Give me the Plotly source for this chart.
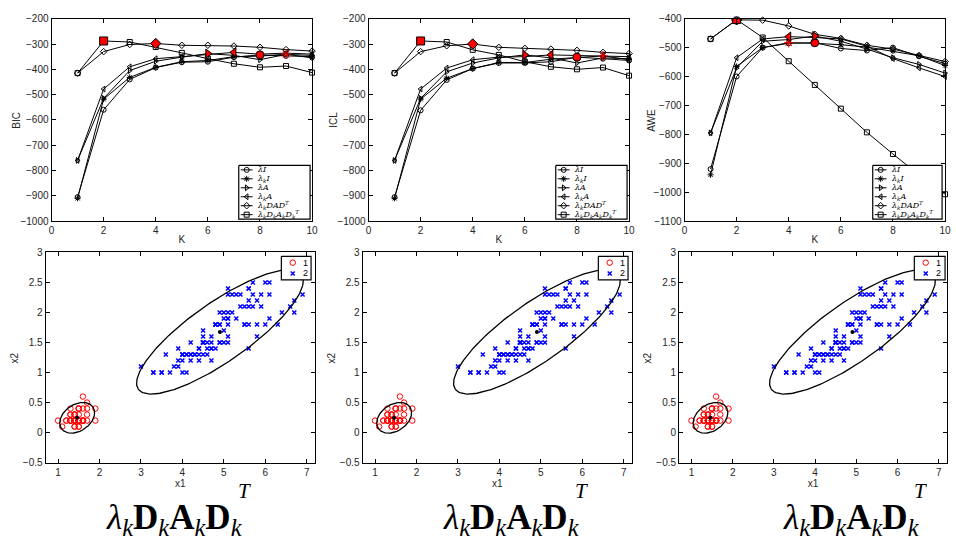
import numpy as np
import plotly.graph_objects as go

W, H = 956, 540
K = list(range(1, 11))

# ---------------- model-selection criteria ----------------
SERIES_LABELS = ["<i>λI</i>", "<i>λ<sub>k</sub>I</i>", "<i>λA</i>", "<i>λ<sub>k</sub>A</i>",
                 "<i>λ<sub>k</sub>DAD<sup>T</sup></i>",
                 "<i>λ<sub>k</sub>D<sub>k</sub>A<sub>k</sub>D<sub>k</sub><sup>T</sup></i>"]

BIC_lI    = [-905, -560, -440, -393, -372, -370, -352, -343, -347, -350]
BIC_lkI   = [-910, -518, -432, -392, -370, -365, -350, -348, -340, -355]
BIC_lA    = [-760, -515, -405, -368, -352, -338, -345, -362, -341, -345]
BIC_lkA   = [-760, -478, -390, -358, -350, -342, -333, -340, -336, -340]
BIC_lkDAD = [-415, -330, -302, -298, -305, -305, -308, -313, -322, -328]
BIC_full  = [-415, -288, -292, -312, -335, -358, -378, -392, -387, -413]

ICL_lI    = [-905, -562, -442, -397, -375, -375, -370, -352, -358, -365]
ICL_lkI   = [-910, -518, -435, -397, -373, -373, -360, -354, -347, -362]
ICL_lA    = [-760, -515, -410, -375, -355, -343, -355, -375, -355, -358]
ICL_lkA   = [-760, -478, -395, -362, -352, -350, -343, -345, -345, -350]
ICL_lkDAD = [-415, -330, -307, -300, -313, -317, -320, -325, -333, -338]
ICL_full  = [-415, -288, -292, -323, -343, -370, -390, -400, -393, -425]

AWE_lI    = [-920, -600, -500, -485, -483, -503, -510, -500, -530, -555]
AWE_lkI   = [-940, -565, -500, -483, -485, -490, -498, -512, -528, -562]
AWE_lA    = [-795, -570, -478, -472, -460, -478, -505, -535, -558, -588]
AWE_lkA   = [-795, -535, -470, -462, -465, -470, -495, -538, -570, -600]
AWE_lkDAD = [-470, -404, -405, -425, -454, -468, -492, -505, -527, -548]
AWE_full  = [-470, -403, -465, -547, -629, -711, -793, -868, -940, -1007]

CRITERIA = [
    ("BIC", [BIC_lI, BIC_lkI, BIC_lA, BIC_lkA, BIC_lkDAD, BIC_full], [-1000, -200]),
    ("ICL", [ICL_lI, ICL_lkI, ICL_lA, ICL_lkA, ICL_lkDAD, ICL_full], [-1000, -200]),
    ("AWE", [AWE_lI, AWE_lkI, AWE_lA, AWE_lkA, AWE_lkDAD, AWE_full], [-1100, -400]),
]

# ---------------- clustered data (petal length x1 / petal width x2) ----------------
c1_x1 = [1.4, 1.4, 1.3, 1.5, 1.4, 1.7, 1.4, 1.5, 1.4, 1.5, 1.5, 1.6, 1.4, 1.1, 1.2, 1.5, 1.3, 1.4, 1.7, 1.5,
         1.7, 1.5, 1.0, 1.7, 1.9, 1.6, 1.6, 1.5, 1.4, 1.6, 1.6, 1.5, 1.5, 1.4, 1.5, 1.2, 1.3, 1.4, 1.3, 1.5,
         1.3, 1.3, 1.3, 1.6, 1.9, 1.4, 1.6, 1.4, 1.5, 1.4]
c1_x2 = [0.2, 0.2, 0.2, 0.2, 0.2, 0.4, 0.3, 0.2, 0.2, 0.1, 0.2, 0.2, 0.1, 0.1, 0.2, 0.4, 0.4, 0.3, 0.3, 0.3,
         0.2, 0.4, 0.2, 0.5, 0.2, 0.2, 0.4, 0.2, 0.2, 0.2, 0.2, 0.4, 0.1, 0.2, 0.2, 0.2, 0.2, 0.1, 0.2, 0.2,
         0.3, 0.3, 0.2, 0.6, 0.4, 0.3, 0.2, 0.2, 0.2, 0.2]
c2_x1 = [4.7, 4.5, 4.9, 4.0, 4.6, 4.5, 4.7, 3.3, 4.6, 3.9, 3.5, 4.2, 4.0, 4.7, 3.6, 4.4, 4.5, 4.1, 4.5, 3.9,
         4.8, 4.0, 4.9, 4.7, 4.3, 4.4, 4.8, 5.0, 4.5, 3.5, 3.8, 3.7, 3.9, 5.1, 4.5, 4.5, 4.7, 4.4, 4.1, 4.0,
         4.4, 4.6, 4.0, 3.3, 4.2, 4.2, 4.2, 4.3, 3.0, 4.1,
         6.0, 5.1, 5.9, 5.6, 5.8, 6.6, 4.5, 6.3, 5.8, 6.1, 5.1, 5.3, 5.5, 5.0, 5.1, 5.3, 5.5, 6.7, 6.9, 5.0,
         5.7, 4.9, 6.7, 4.9, 5.7, 6.0, 4.8, 4.9, 5.6, 5.8, 6.1, 6.4, 5.6, 5.1, 5.6, 6.1, 5.6, 5.5, 4.8, 5.4,
         5.6, 5.1, 5.1, 5.9, 5.7, 5.2, 5.0, 5.2, 5.4, 5.1]
c2_x2 = [1.4, 1.5, 1.5, 1.3, 1.5, 1.3, 1.6, 1.0, 1.3, 1.4, 1.0, 1.5, 1.0, 1.4, 1.3, 1.4, 1.5, 1.0, 1.5, 1.1,
         1.8, 1.3, 1.5, 1.2, 1.3, 1.4, 1.4, 1.7, 1.5, 1.0, 1.1, 1.0, 1.2, 1.6, 1.5, 1.6, 1.5, 1.3, 1.3, 1.3,
         1.2, 1.4, 1.2, 1.0, 1.3, 1.2, 1.3, 1.3, 1.1, 1.3,
         2.5, 1.9, 2.1, 1.8, 2.2, 2.1, 1.7, 1.8, 1.8, 2.5, 2.0, 1.9, 2.1, 2.0, 2.4, 2.3, 1.8, 2.2, 2.3, 1.5,
         2.3, 2.0, 2.0, 1.8, 2.1, 1.8, 1.8, 1.8, 2.1, 1.6, 1.9, 2.0, 2.2, 1.5, 1.4, 2.3, 2.4, 1.8, 1.8, 2.1,
         2.4, 2.3, 1.9, 2.3, 2.5, 2.3, 1.9, 2.0, 2.3, 1.8]

FORMULA_MAIN = "<i>λ</i><sub><i>k</i></sub><b>D</b><sub><i>k</i></sub><b>A</b><sub><i>k</i></sub><b>D</b><sub><i>k</i></sub>"

# ---------------- layout helpers ----------------
def xdom(a, b):
    return [a / W, b / W]

def ydom(top, bottom):
    return [1 - bottom / H, 1 - top / H]

TICKFONT = dict(family="Liberation Sans, Arial", size=10, color="#262626")
TITLEFONT = dict(family="Liberation Sans, Arial", size=10, color="#262626")

def axis_style(**kw):
    d = dict(showline=True, linecolor="black", linewidth=1, mirror="ticks", ticks="inside",
             ticklen=4, tickcolor="black", showgrid=False, zeroline=False, tickfont=TICKFONT)
    d.update(kw)
    return d

fig = go.Figure()
layout = dict(width=W, height=H, autosize=False, margin=dict(l=0, r=0, t=0, b=0),
              paper_bgcolor="white", plot_bgcolor="rgba(0,0,0,0)", showlegend=False)

top_x = [(49, 312), (369, 632), (688, 951)]
top_y = (13, 220)
bot_x = [(43, 315), (363, 635), (682.5, 953)]
bot_y = (252, 467)
top_ytitle_x = [14, 334, 655]
bot_ytitle_x = [12, 332, 651]

SYM_OPEN = ["circle-open", "asterisk-open", "triangle-right-open", "triangle-left-open",
            "diamond-open", "square-open"]
SYM_RED = ["circle", "asterisk-open", "triangle-right", "triangle-left", "diamond", "square"]

annotations = []

def ytitle(text, xpx, top, bottom):
    annotations.append(dict(x=xpx / W, y=1 - (top + bottom) / 2 / H, xref="paper", yref="paper",
                            text=text, showarrow=False, textangle=-90, xanchor="center",
                            yanchor="middle", font=TITLEFONT))

# ---------------- top: criteria curves ----------------
for p, (name, series, yr) in enumerate(CRITERIA):
    ax = p + 1
    xa = "x" if ax == 1 else f"x{ax}"
    ya = "y" if ax == 1 else f"y{ax}"
    for s, vals in enumerate(series):
        fig.add_trace(go.Scatter(x=K, y=vals, xaxis=xa, yaxis=ya, mode="lines+markers",
                                 line=dict(color="black", width=1),
                                 marker=dict(symbol=SYM_OPEN[s], size=5, color="black",
                                             line=dict(color="black", width=1)),
                                 cliponaxis=False))
    for s, vals in enumerate(series):
        i = int(np.argmax(vals))
        fig.add_trace(go.Scatter(x=[K[i]], y=[vals[i]], xaxis=xa, yaxis=ya, mode="markers",
                                 marker=dict(symbol=SYM_RED[s], size=8, color="red",
                                             line=dict(color="black" if s != 1 else "red", width=1))))
    layout[f"xaxis{'' if ax == 1 else ax}"] = axis_style(
        domain=xdom(*top_x[p]), range=[0, 10], tickvals=[0, 2, 4, 6, 8, 10], anchor=ya,
        title=dict(text="K", font=TITLEFONT, standoff=0))
    layout[f"yaxis{'' if ax == 1 else ax}"] = axis_style(
        domain=ydom(*top_y), range=yr, dtick=100, anchor=xa)
    ytitle(name, top_ytitle_x[p], *top_y)

# ---------------- bottom: clustering ----------------
def ellipse(xs, ys):
    X = np.column_stack([xs, ys])
    mu = X.mean(axis=0)
    C = np.cov(X.T, bias=True)
    L, V = np.linalg.eigh(C)
    t = np.linspace(0, 2 * np.pi, 200)
    r = np.sqrt(5.991)
    pts = mu[:, None] + V @ (r * np.sqrt(L)[:, None] * np.vstack([np.cos(t), np.sin(t)]))
    return mu, pts

for p in range(3):
    ax = p + 4
    xa, ya = f"x{ax}", f"y{ax}"
    fig.add_trace(go.Scatter(x=c1_x1, y=c1_x2, xaxis=xa, yaxis=ya, mode="markers",
                             marker=dict(symbol="circle-open", size=5.5, color="red",
                                         line=dict(color="red", width=1))))
    fig.add_trace(go.Scatter(x=c2_x1, y=c2_x2, xaxis=xa, yaxis=ya, mode="markers",
                             marker=dict(symbol="x-thin-open", size=4, color="blue",
                                         line=dict(color="blue", width=1.5))))
    for xs, ys in [(c1_x1, c1_x2), (c2_x1, c2_x2)]:
        mu, pts = ellipse(xs, ys)
        fig.add_trace(go.Scatter(x=pts[0], y=pts[1], xaxis=xa, yaxis=ya, mode="lines",
                                 line=dict(color="black", width=1.3)))
        fig.add_trace(go.Scatter(x=[mu[0]], y=[mu[1]], xaxis=xa, yaxis=ya, mode="markers",
                                 marker=dict(color="black", size=4)))
    layout[f"xaxis{ax}"] = axis_style(domain=xdom(*bot_x[p]), range=[0.7, 7.2], dtick=1, anchor=ya,
                                      title=dict(text="x1", font=TITLEFONT, standoff=2))
    layout[f"yaxis{ax}"] = axis_style(domain=ydom(*bot_y), range=[-0.5, 3], dtick=0.5, anchor=xa)
    ytitle("x2", bot_ytitle_x[p], *bot_y)

# ---------------- overlay pixel axes for legends ----------------
layout["xaxis7"] = dict(domain=[0, 1], range=[0, W], visible=False, fixedrange=True, anchor="y7")
layout["yaxis7"] = dict(domain=[0, 1], range=[H, 0], visible=False, fixedrange=True, anchor="x7")

def box(x0, y0, x1, y1):
    fig.add_trace(go.Scatter(x=[x0, x1, x1, x0, x0], y=[y0, y0, y1, y1, y0], xaxis="x7", yaxis="y7",
                             mode="lines", fill="toself", fillcolor="white",
                             line=dict(color="black", width=1.2)))

LEG_FONT = dict(family="DejaVu Serif, Liberation Serif", size=8, color="black")
top_leg = [(238, 310), (558, 630), (878, 948)]
for (x0, x1) in top_leg:
    y0, y1 = 163, 218
    box(x0, y0, x1, y1)
    step = (y1 - y0) / 6
    for s in range(6):
        yc = y0 + step * (s + 0.5)
        fig.add_trace(go.Scatter(x=[x0 + 2, x0 + 14], y=[yc, yc], xaxis="x7", yaxis="y7",
                                 mode="lines", line=dict(color="black", width=1)))
        fig.add_trace(go.Scatter(x=[x0 + 8], y=[yc], xaxis="x7", yaxis="y7", mode="markers",
                                 marker=dict(symbol=SYM_OPEN[s], size=5, color="black",
                                             line=dict(color="black", width=1))))
        annotations.append(dict(x=(x0 + 16) / W, y=1 - yc / H, xref="paper", yref="paper",
                                text=SERIES_LABELS[s], showarrow=False, xanchor="left",
                                yanchor="middle", font=LEG_FONT))

bot_leg = [(281, 311), (601, 631), (920, 951)]
for (x0, x1) in bot_leg:
    y0, y1 = 256, 280
    box(x0, y0, x1, y1)
    for s, yc in enumerate([262.5, 273.5]):
        if s == 0:
            mk = dict(symbol="circle-open", size=5.5, color="red", line=dict(color="red", width=1))
        else:
            mk = dict(symbol="x-thin-open", size=4, color="blue", line=dict(color="blue", width=1.5))
        fig.add_trace(go.Scatter(x=[x0 + 11.5], y=[yc], xaxis="x7", yaxis="y7", mode="markers", marker=mk))
        annotations.append(dict(x=(x0 + 20) / W, y=1 - yc / H, xref="paper", yref="paper",
                                text=str(s + 1), showarrow=False, xanchor="left", yanchor="middle",
                                font=dict(family="Liberation Sans, Arial", size=9, color="black")))

# ---------------- formula captions ----------------
FORM_FONT = dict(family="Liberation Serif, DejaVu Serif", size=35, color="black")
for left in [102, 442, 785]:
    annotations.append(dict(x=left / W, y=1 - 525 / H, xref="paper", yref="paper",
                            text=FORMULA_MAIN, showarrow=False, xanchor="left", yanchor="middle",
                            font=FORM_FONT))
    annotations.append(dict(x=(left + 134) / W, y=1 - 496 / H, xref="paper", yref="paper",
                            text="<i>T</i>", showarrow=False, xanchor="left", yanchor="middle",
                            borderpad=0,
                            font=dict(family="Liberation Serif, DejaVu Serif", size=21, color="black")))

layout["annotations"] = annotations
fig.update_layout(**layout)
fig.write_html("out.html")
